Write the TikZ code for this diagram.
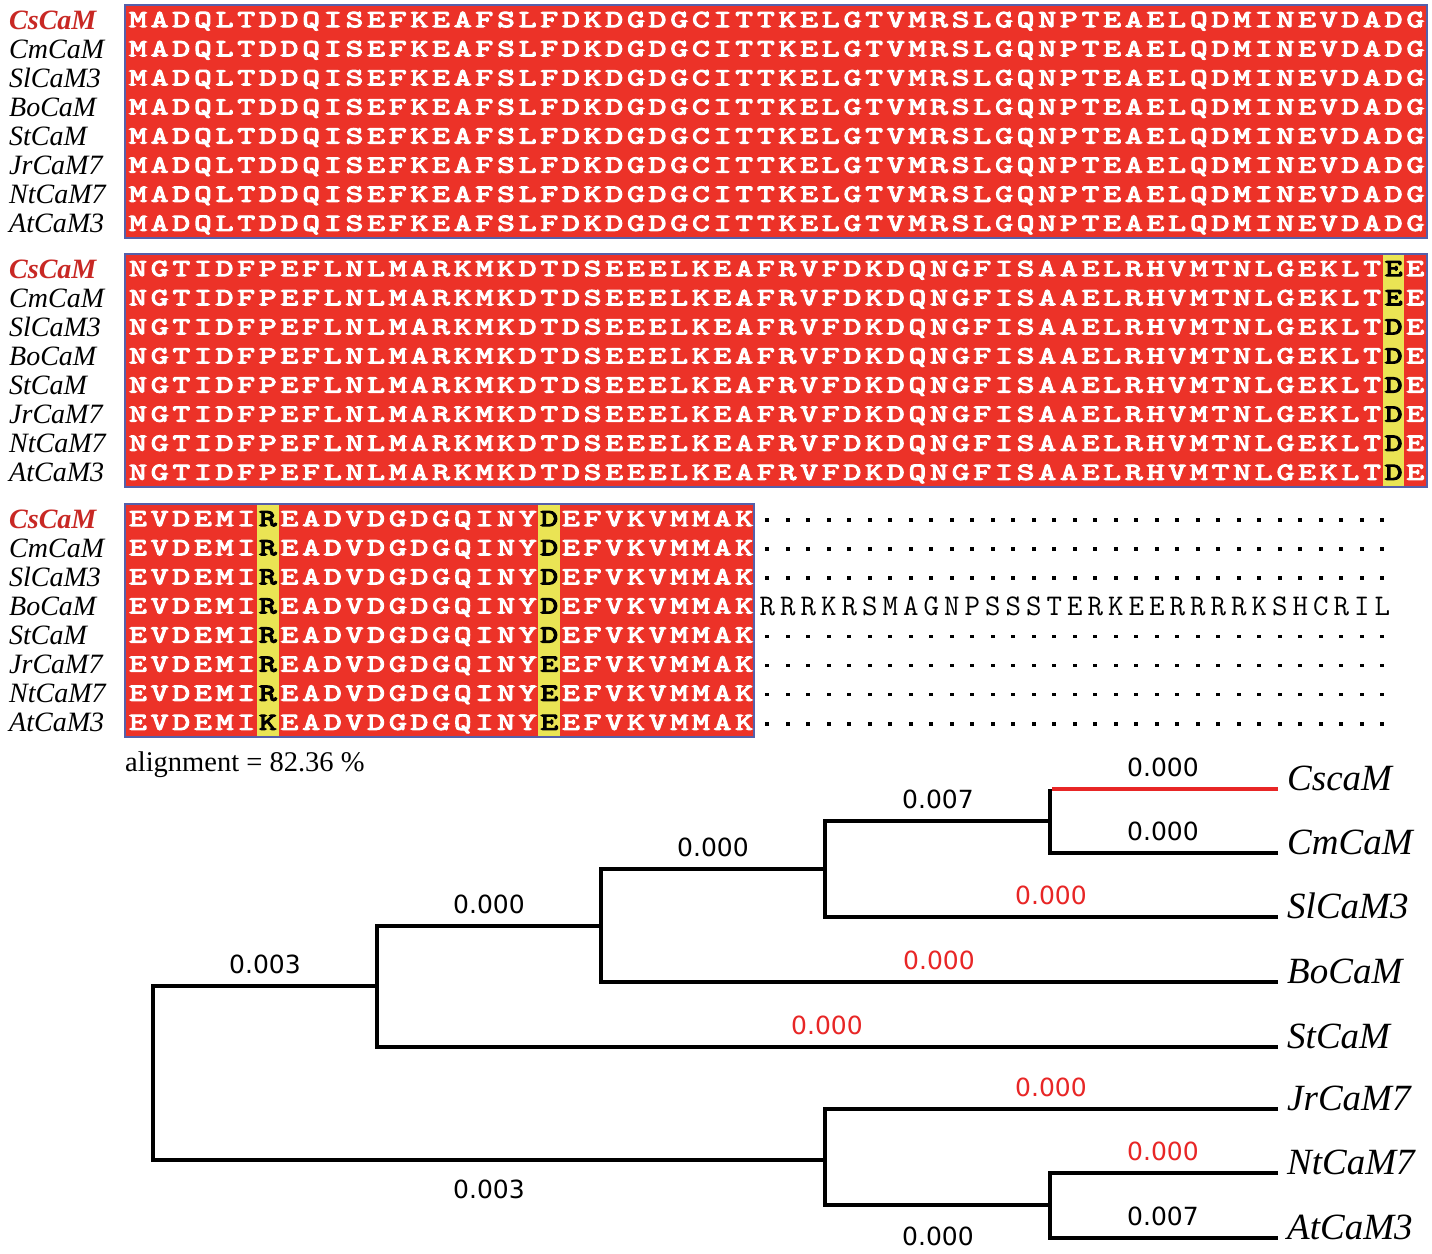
\documentclass[tikz,border=0pt]{standalone}
\usepackage{fontspec}
\setmainfont{Liberation Serif}
\newfontfamily\treefont{DejaVu Sans}
\newfontfamily\seqfont[Extension=.otf,FakeBold=4.5,FakeStretch=1.38]{lmmono10-regular}
\definecolor{seqred}{RGB}{236,50,40}
\definecolor{hlyellow}{RGB}{234,228,84}
\definecolor{boxblue}{RGB}{85,95,170}
\definecolor{treered}{RGB}{232,38,38}
\definecolor{namered}{RGB}{200,40,36}
\ExplSyntaxOn
\NewDocumentCommand\seqcells{mm}{\tl_map_inline:nn{#2}{\makebox[#1][c]{##1}}}
\ExplSyntaxOff
\newcommand\hl[1]{\color{black}#1}
\tikzset{
  seqtxt/.style={anchor=base west, inner sep=0pt, text=white, font=\fontsize{24.5}{24.5}\selectfont\seqfont},
  tailtxt/.style={anchor=base west, inner sep=0pt, text=black, font=\fontsize{30}{30}\selectfont\ttfamily},
  rowname/.style={anchor=base west, inner sep=0pt, font=\fontsize{28}{28}\selectfont\itshape},
  csname/.style={anchor=base west, inner sep=0pt, text=namered, font=\fontsize{28}{28}\selectfont\bfseries\itshape},
  seqbox/.style={draw=boxblue, line width=1.2pt, fill=seqred},
  br/.style={line width=4pt},
  bl/.style={anchor=base, inner sep=0pt, font=\fontsize{25}{25}\selectfont\treefont},
  leaf/.style={anchor=base west, inner sep=0pt, font=\fontsize{37}{37}\selectfont\itshape},
}
\newcommand\namecol[2]{%
  \node[csname] (#2n0) at (9,#1+9.6) {CsCaM};
  \foreach \i/\nm in {1/CmCaM,2/SlCaM3,3/BoCaM,4/StCaM,5/JrCaM7,6/NtCaM7,7/AtCaM3}
    \node[rowname] (#2n\i) at (9,#1+9.6+29.1*\i) {\nm};
}
\begin{document}
\begin{tikzpicture}[x=1pt,y=-1pt]
\fill[white] (0,0) rectangle (1432,1253);
\useasboundingbox (0,0) rectangle (1432,1253);

% ---------- block 1 ----------
\path[seqbox] (125,5) rectangle (1427,238);
\namecol{19.6}{a}
\foreach \i in {0,...,7}
  \node[seqtxt] (s1r\i) at (127,19.6+7.5+29.1*\i)
    {\seqcells{21.65pt}{MADQLTDDQISEFKEAFSLFDKDGDGCITTKELGTVMRSLGQNPTEAELQDMINEVDADG}};

% ---------- block 2 ----------
\path[seqbox] (125,254) rectangle (1427,487);
\fill[hlyellow] (1382.7,254.6) rectangle (1404.4,486.4);
\namecol{268.6}{b}
\foreach \i/\h in {0/E,1/E,2/D,3/D,4/D,5/D,6/D,7/D}
  \node[seqtxt] (s2r\i) at (127,268.6+7.5+29.1*\i)
    {\seqcells{21.65pt}{NGTIDFPEFLNLMARKMKDTDSEEELKEAFRVFDKDQNGFISAAELRHVMTNLGEKLT{\hl{\h}}E}};

% ---------- block 3 ----------
\path[seqbox] (125,504) rectangle (754,737);
\fill[hlyellow] (256.9,504.6) rectangle (278.6,736.4);
\fill[hlyellow] (538.4,504.6) rectangle (560.1,736.4);
\namecol{518.6}{c}
\foreach \i/\ha/\hb in {0/R/D,1/R/D,2/R/D,3/R/D,4/R/D,5/R/E,6/R/E,7/K/E}
  \node[seqtxt] (s3r\i) at (127,518.6+7.5+29.1*\i)
    {\seqcells{21.65pt}{EVDEMI{\hl{\ha}}EADVDGDGQINY{\hl{\hb}}EFVKVMMAK}};
\foreach \i in {0,1,2,4,5,6,7}
  \foreach \k in {0,...,30}
    \fill (767.25+20.5*\k-1.8,520+29.1*\i-1.8) rectangle ++(3.6,3.6);
\node[tailtxt] (tail) at (757,518.6+9.5+29.1*3)
  {\seqcells{20.5pt}{RRRKRSMAGNPSSSTERKEERRRRKSHCRIL}};

\node[anchor=base west, inner sep=0pt, font=\fontsize{28.5}{28.5}\selectfont] (algn) at (125,771) {alignment = 82.36 \%};

% ---------- tree ----------
\coordinate (r) at (153,1073);
\coordinate (d) at (377,986);
\coordinate (c) at (601,926);
\coordinate (b) at (825,869);
\coordinate (a) at (1050,821);
\coordinate (e) at (825,1160);
\coordinate (f) at (1050,1205);
\coordinate (lCs) at (1278,789);
\coordinate (lCm) at (1278,853);
\coordinate (lSl) at (1278,917);
\coordinate (lBo) at (1278,982);
\coordinate (lSt) at (1278,1047);
\coordinate (lJr) at (1278,1109);
\coordinate (lNt) at (1278,1173);
\coordinate (lAt) at (1278,1238);

\draw[br] (d) -| (r) |- (e);
\draw[br] (c) -| (d) |- (lSt);
\draw[br] (b) -| (c) |- (lBo);
\draw[br] (a) -| (b) |- (lSl);
\draw[br] (lCm) -| (a) -- (a |- lCs);
\draw[br, treered] ([xshift=2pt]a |- lCs) -- (lCs);
\draw[br] (lJr) -| (e) |- (f);
\draw[br] (lNt) -| (f) |- (lAt);

\node[leaf] (tCs) at (1287,790) {CscaM};
\node[leaf] (tCm) at (1287,854) {CmCaM};
\node[leaf] (tSl) at (1287,918) {SlCaM3};
\node[leaf] (tBo) at (1287,983) {BoCaM};
\node[leaf] (tSt) at (1287,1048) {StCaM};
\node[leaf] (tJr) at (1287,1110) {JrCaM7};
\node[leaf] (tNt) at (1287,1174) {NtCaM7};
\node[leaf] (tAt) at (1287,1239) {AtCaM3};

\node[bl] (vA) at (938,808) {0.007};
\node[bl] (vCs) at (1163,776) {0.000};
\node[bl] (vCm) at (1163,840) {0.000};
\node[bl, text=treered] (vSl) at (1051,904) {0.000};
\node[bl] (vB) at (713,856) {0.000};
\node[bl, text=treered] (vBo) at (939,969) {0.000};
\node[bl] (vC) at (489,913) {0.000};
\node[bl] (vD) at (265,973) {0.003};
\node[bl, text=treered] (vSt) at (827,1034) {0.000};
\node[bl, text=treered] (vJr) at (1051,1096) {0.000};
\node[bl, text=treered] (vNt) at (1163,1160) {0.000};
\node[bl] (vAt) at (1163,1225) {0.007};
\node[bl] (vE) at (489,1198) {0.003};
\node[bl] (vF) at (938,1245) {0.000};
\end{tikzpicture}
\end{document}
